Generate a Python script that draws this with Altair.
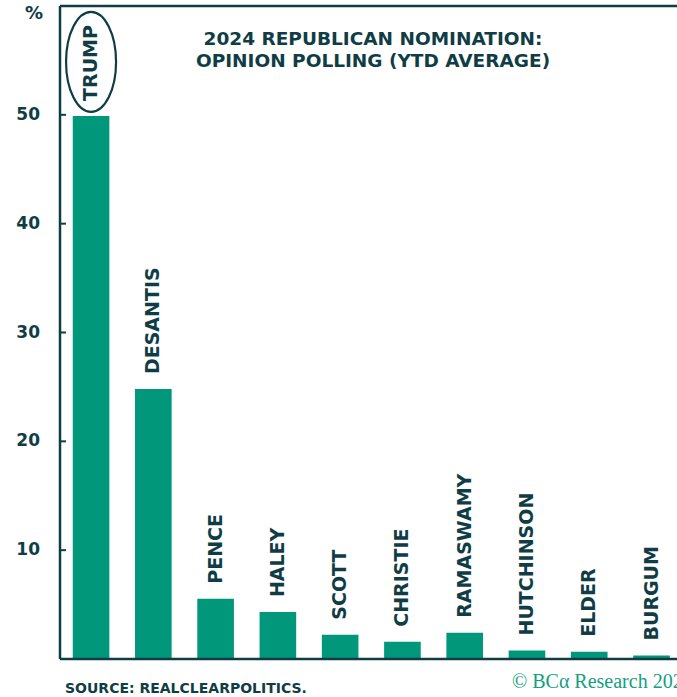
import altair as alt
import pandas as pd

# ---- data ----
candidates = ["TRUMP", "DESANTIS", "PENCE", "HALEY", "SCOTT", "CHRISTIE",
              "RAMASWAMY", "HUTCHINSON", "ELDER", "BURGUM"]
support = [49.9, 24.8, 5.54, 4.31, 2.23, 1.58, 2.41, 0.78, 0.66, 0.32]
y_ticks = [10, 20, 30, 40, 50]
highlighted = ["TRUMP"]
title_lines = ["2024 REPUBLICAN NOMINATION:", "OPINION POLLING (YTD AVERAGE)"]
y_unit = "%"
source_text = "SOURCE: REALCLEARPOLITICS."
copyright_text = "© BCα Research 2023"

df = pd.DataFrame({"candidate": candidates, "value": support})
ticks_df = pd.DataFrame({"value": y_ticks})
top_df = pd.DataFrame({"value": [60]})
base_df = pd.DataFrame({"value": [0]})
hl_df = df[df["candidate"].isin(highlighted)]

DARK = "#103d45"
GREEN = "#00977b"
FONT = "DejaVu Sans"

W, H = 617, 653

x_scale = alt.Scale(paddingInner=0.412, paddingOuter=0.16, align=0.64)
y_scale = alt.Scale(domain=[0, 60], nice=False, zero=True)

X = alt.X("candidate:N", sort=candidates, scale=x_scale, axis=None)
Y = alt.Y("value:Q", scale=y_scale, axis=None)

bars = alt.Chart(df).mark_bar(color=GREEN).encode(x=X, y=Y)

labels = alt.Chart(df).mark_text(
    angle=270, align="left", baseline="middle", dx=15,
    font=FONT, fontSize=19, fontWeight="bold", color=DARK
).encode(x=X, y=Y, text="candidate:N")

ellipse = alt.Chart(hl_df).mark_point(
    shape="M0,-1A0.5,1,0,1,1,0,1A0.5,1,0,1,1,0,-1Z",
    size=10000, filled=False, stroke=DARK, strokeWidth=2.2, opacity=1,
    yOffset=-54
).encode(x=X, y=Y)

# y axis: inward ticks, labels and the axis line, all on the y scale
tick_rules = alt.Chart(ticks_df).mark_rule(color=DARK, strokeWidth=2).encode(
    y=Y, x=alt.value(0), x2=alt.value(6))

tick_labels = alt.Chart(ticks_df).mark_text(
    align="right", baseline="middle", dx=-20,
    font=FONT, fontSize=17, fontWeight="bold", color=DARK
).encode(y=Y, x=alt.value(0), text="value:Q")

one = pd.DataFrame({"a": [1]})
y_line = alt.Chart(one).mark_rule(color=DARK, strokeWidth=2.5).encode(
    x=alt.value(0), y=alt.value(0), y2=alt.value(H))

x_line = alt.Chart(base_df).mark_rule(color=DARK, strokeWidth=2.5).encode(
    y=Y, x=alt.value(0), x2=alt.value(W))

top_rule = alt.Chart(top_df).mark_rule(color=DARK, strokeWidth=2.5).encode(
    y=Y, x=alt.value(0), x2=alt.value(W))

unit = alt.Chart(one).mark_text(
    text=y_unit, align="right", baseline="alphabetic",
    font=FONT, fontSize=18, fontWeight="bold", color=DARK
).encode(x=alt.value(-17), y=alt.value(13))

title = alt.Chart(one).mark_text(
    text=title_lines, align="center", baseline="alphabetic", lineHeight=22,
    font=FONT, fontSize=18.5, fontWeight="bold", color=DARK
).encode(x=alt.value(313), y=alt.value(39))

source = alt.Chart(one).mark_text(
    text=source_text, align="left", baseline="alphabetic",
    font=FONT, fontSize=14, fontWeight="bold", color=DARK
).encode(x=alt.value(5), y=alt.value(687))

copyright_mark = alt.Chart(one).mark_text(
    text=copyright_text, align="left", baseline="alphabetic",
    font="Liberation Serif", fontSize=20, color="#12a082"
).encode(x=alt.value(452), y=alt.value(682))

TOTAL_H = 697

chart = alt.layer(
    bars, tick_rules, tick_labels, y_line, x_line, top_rule, labels, ellipse,
    unit, title, source, copyright_mark
).properties(
    width=W, height=H,
    autosize=alt.AutoSizeParams(type="none"),
    padding={"left": 60, "top": 6, "right": 0, "bottom": TOTAL_H - 6 - H},
    background="white",
    view=alt.ViewBackground(stroke="transparent", strokeWidth=0,
                            strokeOpacity=0),
).configure_view(strokeWidth=0, stroke="transparent", strokeOpacity=0)

chart.save("out.html", embed_options={"renderer": "svg", "actions": False})
